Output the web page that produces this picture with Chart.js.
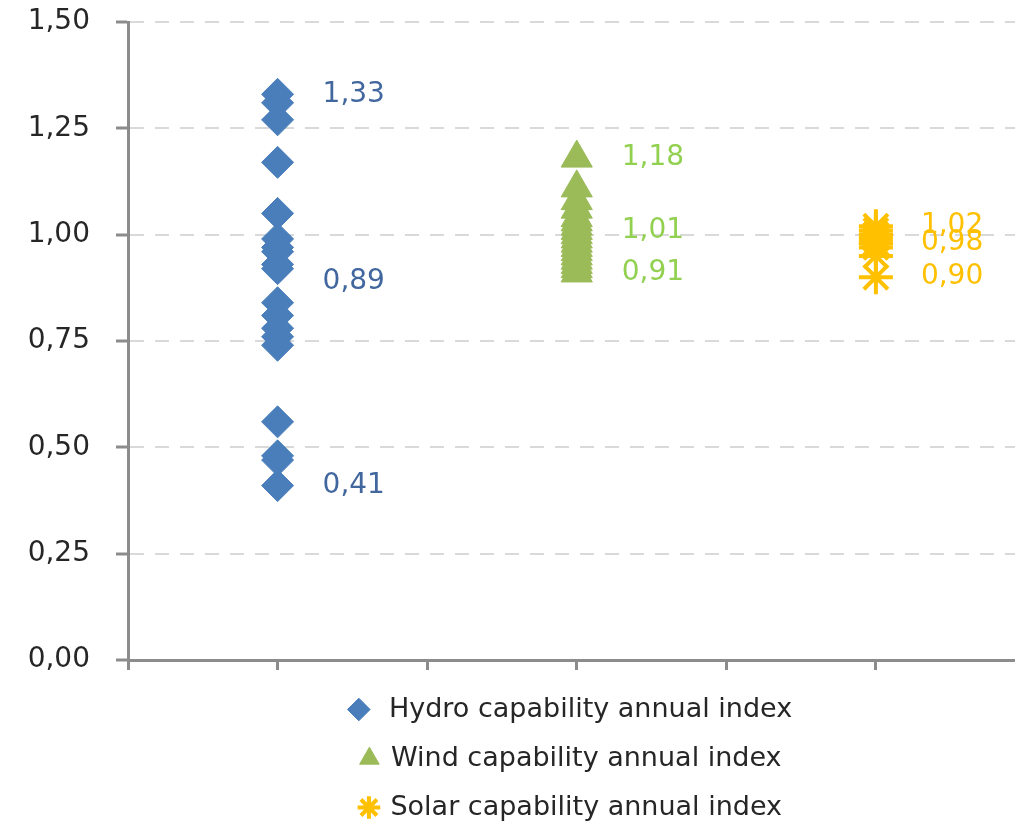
<!DOCTYPE html>
<html>
<head>
<meta charset="utf-8">
<script src="https://cdn.jsdelivr.net/npm/chart.js@4/dist/chart.umd.min.js"></script>
<style>
    body { margin: 0; background: #fff; }
    #wrap { width: 1015px; height: 822px; }
</style>
</head>
<body>
<div id="wrap"><canvas id="chart"></canvas></div>
<script>
// x position of each column
const columns = [1, 3, 5]

const hydroValues = [1.33, 1.31, 1.27, 1.17, 1.05, 0.99, 0.97, 0.96, 0.93, 0.92,
    0.84, 0.81, 0.78, 0.76, 0.74, 0.56, 0.48, 0.47, 0.41]
const windValues = [1.18, 1.11, 1.08, 1.06, 1.04, 1.03, 1.02, 1.01, 1.00, 0.99,
    0.98, 0.97, 0.96, 0.95, 0.94, 0.93, 0.92, 0.91]
const solarValues = [1.02, 1.01, 1.00, 1.00, 0.99, 0.98, 0.98, 0.97, 0.95, 0.90]

// max / mean / min labels next to each column
const hydroLabels = [1.33, 0.89, 0.41]
const windLabels = [1.18, 1.01, 0.91]
const solarLabels = [1.02, 0.98, 0.90]

const yTicks = [0, 0.25, 0.5, 0.75, 1, 1.25, 1.5]

const fmt = v => v.toFixed(2).replace('.', ',')
const font = '"DejaVu Sans", Verdana, sans-serif'

const toPoints = (values, x) => values.map(v => ({ x: x, y: v }))

const labelSets = [hydroLabels, windLabels, solarLabels]
const labelColors = ['#41679e', '#92d050', '#ffc000']

const valueLabels = {
    id: 'valueLabels',
    afterDatasetsDraw(chart) {
        const { ctx, scales: { x, y } } = chart
        ctx.save()
        ctx.font = `28px ${font}`
        ctx.textAlign = 'left'
        ctx.textBaseline = 'middle'
        labelSets.forEach((set, i) => {
            ctx.fillStyle = labelColors[i]
            for (const v of set) {
                ctx.fillText(fmt(v), x.getPixelForValue(columns[i]) + 45, y.getPixelForValue(v))
            }
        })
        ctx.restore()
    }
}

const canvas = document.querySelector('canvas')

const chart = new Chart(canvas, {
    type: 'scatter',
    data: {
        datasets: [
            {
                label: ' Hydro capability annual index',
                data: toPoints(hydroValues, columns[0]),
                pointStyle: 'rectRot',
                pointRadius: 16,
                backgroundColor: '#4a7ebb',
                borderColor: '#4a7ebb',
                borderWidth: 1,
            },
            {
                label: 'Wind capability annual index',
                data: toPoints(windValues, columns[1]),
                pointStyle: 'triangle',
                pointRadius: 18,
                backgroundColor: '#9bbb59',
                borderColor: '#9bbb59',
                borderWidth: 1,
            },
            {
                label: 'Solar capability annual index',
                data: toPoints(solarValues, columns[2]),
                pointStyle: 'star',
                pointRadius: 17,
                backgroundColor: '#ffc000',
                borderColor: '#ffc000',
                borderWidth: 4,
            },
        ]
    },
    options: {
        responsive: true,
        maintainAspectRatio: false,
        animation: false,
        layout: {
            autoPadding: false,
            padding: { top: 22, bottom: -9, left: 0, right: 0 }
        },
        plugins: {
            tooltip: { enabled: false },
            legend: {
                position: 'bottom',
                fullSize: false,
                labels: {
                    usePointStyle: true,
                    boxWidth: 16,
                    boxHeight: 16,
                    padding: 22,
                    color: '#262626',
                    font: { family: font, size: 27 },
                },
            },
        },
        scales: {
            x: {
                type: 'linear',
                min: 0,
                max: 5.93,
                afterFit: s => { s.height = 14 },
                ticks: { display: false, stepSize: 1, includeBounds: false },
                grid: {
                    drawOnChartArea: false,
                    tickLength: 10,
                    tickColor: '#8c8c8c',
                    tickWidth: 3,
                },
                border: { color: '#8c8c8c', width: 3 },
            },
            y: {
                min: 0,
                max: 1.5,
                afterFit: s => {
                    s.width = 128
                    s.paddingTop = 0
                    s.paddingBottom = 0
                },
                afterBuildTicks: s => { s.ticks = yTicks.map(v => ({ value: v })) },
                ticks: {
                    padding: 26,
                    color: '#262626',
                    font: { family: font, size: 28 },
                    callback: v => fmt(v),
                },
                grid: {
                    color: c => c.tick && c.tick.value === 0 ? 'rgba(0,0,0,0)' : '#d9d9d9',
                    lineWidth: 2,
                    tickLength: 12,
                    tickColor: '#8c8c8c',
                    tickWidth: 3,
                },
                border: { color: '#8c8c8c', width: 3, dash: [14, 11] },
            },
        },
    },
    plugins: [valueLabels],
})
</script>
</body>
</html>
